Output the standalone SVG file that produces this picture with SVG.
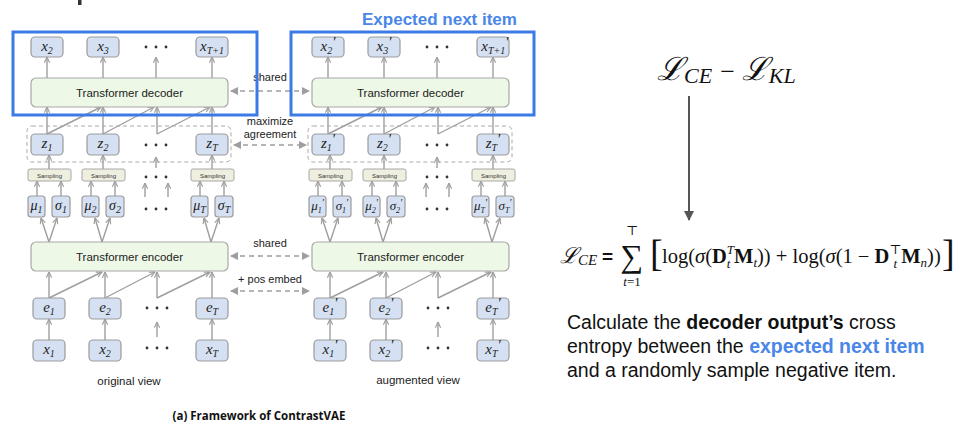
<svg xmlns="http://www.w3.org/2000/svg" width="964" height="436" viewBox="0 0 964 436">
<style>
.nd{fill:#d5e1f2;stroke:#9b9b9b;stroke-width:1.2}
.tf{fill:#edf8e6;stroke:#a8a8a8;stroke-width:1.2}
.sp{fill:#efefe0;stroke:#a8a8a8;stroke-width:1}
.m{font-family:"Liberation Serif",serif;font-style:italic;font-size:15px;fill:#222;text-anchor:middle}
.ms{font-family:"Liberation Serif",serif;font-style:italic;font-size:14px;fill:#222;text-anchor:middle}
.s{font-size:10px}
.lb{font-family:"Liberation Sans",Arial,sans-serif;font-size:11.5px;fill:#222;text-anchor:middle}
.sm{font-family:"Liberation Sans",Arial,sans-serif;font-size:6px;fill:#333;text-anchor:middle}
.ca{stroke:#9e9e9e;stroke-width:1.4;fill:none;marker-end:url(#ah)}
.dd{stroke:#9e9e9e;stroke-width:1.5;fill:none;stroke-dasharray:5 4;marker-end:url(#dh);marker-start:url(#dh)}
.zb{fill:none;stroke:#aaa;stroke-width:1;stroke-dasharray:4 3}
.blue{fill:none;stroke:#3c7ae6;stroke-width:3}
.dot{fill:#333}
.p{font-family:"Liberation Sans",Arial,sans-serif;font-size:19.5px;fill:#111}
.f{font-family:"Liberation Serif","DejaVu Serif",serif;fill:#111}
</style>
<defs>
<marker id="ah" viewBox="0 0 8 8" refX="7.5" refY="4" markerWidth="7" markerHeight="7" markerUnits="userSpaceOnUse" orient="auto">
<path d="M1,1 L7.5,4 L1,7" fill="none" stroke="#9e9e9e" stroke-width="1.3"/>
</marker>
<marker id="dh" viewBox="0 0 8 8" refX="7" refY="4" markerWidth="8" markerHeight="8" markerUnits="userSpaceOnUse" orient="auto-start-reverse">
<path d="M0,0 L8,4 L0,8 Z" fill="#9e9e9e"/>
</marker>
<marker id="bh" viewBox="0 0 10 10" refX="9" refY="5" markerWidth="10" markerHeight="10" markerUnits="userSpaceOnUse" orient="auto">
<path d="M0,0 L10,5 L0,10 Z" fill="#555"/>
</marker>
<g id="dots3"><circle cx="-10" cy="0" r="1.4"/><circle cx="0" cy="0" r="1.4"/><circle cx="10" cy="0" r="1.4"/></g>
</defs>
<rect width="964" height="436" fill="#fff"/>
<rect x="78" y="0" width="3.5" height="5" fill="#333"/>

<!-- ================= connectors ================= -->
<g id="connectors">
 <g id="conn-left">
  <line class="ca" x1="47" y1="78" x2="47" y2="57"/>
  <line class="ca" x1="103" y1="78" x2="103" y2="57"/>
  <line class="ca" x1="156" y1="78" x2="156" y2="57"/>
  <line class="ca" x1="212" y1="78" x2="212" y2="57"/>
  <line class="ca" x1="47" y1="134" x2="47" y2="107"/>
  <line class="ca" x1="47" y1="134" x2="101" y2="107"/>
  <line class="ca" x1="103" y1="134" x2="103" y2="107"/>
  <line class="ca" x1="103" y1="134" x2="154" y2="107"/>
  <line class="ca" x1="157" y1="134" x2="157" y2="107"/>
  <line class="ca" x1="157" y1="134" x2="210" y2="107"/>
  <line class="ca" x1="212" y1="134" x2="212" y2="107"/>
  <line class="ca" x1="49" y1="169" x2="49" y2="155"/>
  <line class="ca" x1="103" y1="169" x2="103" y2="155"/>
  <line class="ca" x1="156" y1="168" x2="156" y2="157"/>
  <line class="ca" x1="212" y1="169" x2="212" y2="155"/>
  <line class="ca" x1="37" y1="196" x2="37" y2="181"/>
  <line class="ca" x1="61" y1="196" x2="61" y2="181"/>
  <line class="ca" x1="91" y1="196" x2="91" y2="181"/>
  <line class="ca" x1="115" y1="196" x2="115" y2="181"/>
  <line class="ca" x1="145" y1="197" x2="145" y2="183"/>
  <line class="ca" x1="168" y1="197" x2="168" y2="183"/>
  <line class="ca" x1="200" y1="196" x2="200" y2="181"/>
  <line class="ca" x1="224" y1="196" x2="224" y2="181"/>
  <line class="ca" x1="49" y1="242" x2="41" y2="218"/>
  <line class="ca" x1="49" y1="242" x2="57" y2="218"/>
  <line class="ca" x1="102" y1="242" x2="95" y2="218"/>
  <line class="ca" x1="102" y1="242" x2="110" y2="218"/>
  <line class="ca" x1="211" y1="242" x2="204" y2="218"/>
  <line class="ca" x1="211" y1="242" x2="219" y2="218"/>
  <line class="ca" x1="49" y1="298" x2="49" y2="272"/>
  <line class="ca" x1="49" y1="298" x2="102" y2="272"/>
  <line class="ca" x1="105" y1="298" x2="105" y2="272"/>
  <line class="ca" x1="105" y1="298" x2="155" y2="272"/>
  <line class="ca" x1="157" y1="298" x2="157" y2="272"/>
  <line class="ca" x1="157" y1="298" x2="210" y2="272"/>
  <line class="ca" x1="212" y1="298" x2="212" y2="272"/>
  <line class="ca" x1="49" y1="340" x2="49" y2="319"/>
  <line class="ca" x1="105" y1="340" x2="105" y2="319"/>
  <line class="ca" x1="157" y1="337" x2="157" y2="322"/>
  <line class="ca" x1="212" y1="340" x2="212" y2="319"/>
 </g>
 <g id="conn-right" transform="translate(281,0)">
  <line class="ca" x1="47" y1="78" x2="47" y2="57"/>
  <line class="ca" x1="103" y1="78" x2="103" y2="57"/>
  <line class="ca" x1="156" y1="78" x2="156" y2="57"/>
  <line class="ca" x1="212" y1="78" x2="212" y2="57"/>
  <line class="ca" x1="47" y1="134" x2="47" y2="107"/>
  <line class="ca" x1="47" y1="134" x2="101" y2="107"/>
  <line class="ca" x1="103" y1="134" x2="103" y2="107"/>
  <line class="ca" x1="103" y1="134" x2="154" y2="107"/>
  <line class="ca" x1="157" y1="134" x2="157" y2="107"/>
  <line class="ca" x1="157" y1="134" x2="210" y2="107"/>
  <line class="ca" x1="212" y1="134" x2="212" y2="107"/>
  <line class="ca" x1="49" y1="169" x2="49" y2="155"/>
  <line class="ca" x1="103" y1="169" x2="103" y2="155"/>
  <line class="ca" x1="156" y1="168" x2="156" y2="157"/>
  <line class="ca" x1="212" y1="169" x2="212" y2="155"/>
  <line class="ca" x1="37" y1="196" x2="37" y2="181"/>
  <line class="ca" x1="61" y1="196" x2="61" y2="181"/>
  <line class="ca" x1="91" y1="196" x2="91" y2="181"/>
  <line class="ca" x1="115" y1="196" x2="115" y2="181"/>
  <line class="ca" x1="145" y1="197" x2="145" y2="183"/>
  <line class="ca" x1="168" y1="197" x2="168" y2="183"/>
  <line class="ca" x1="200" y1="196" x2="200" y2="181"/>
  <line class="ca" x1="224" y1="196" x2="224" y2="181"/>
  <line class="ca" x1="49" y1="242" x2="41" y2="218"/>
  <line class="ca" x1="49" y1="242" x2="57" y2="218"/>
  <line class="ca" x1="102" y1="242" x2="95" y2="218"/>
  <line class="ca" x1="102" y1="242" x2="110" y2="218"/>
  <line class="ca" x1="211" y1="242" x2="204" y2="218"/>
  <line class="ca" x1="211" y1="242" x2="219" y2="218"/>
  <line class="ca" x1="49" y1="298" x2="49" y2="272"/>
  <line class="ca" x1="49" y1="298" x2="102" y2="272"/>
  <line class="ca" x1="105" y1="298" x2="105" y2="272"/>
  <line class="ca" x1="105" y1="298" x2="155" y2="272"/>
  <line class="ca" x1="157" y1="298" x2="157" y2="272"/>
  <line class="ca" x1="157" y1="298" x2="210" y2="272"/>
  <line class="ca" x1="212" y1="298" x2="212" y2="272"/>
  <line class="ca" x1="49" y1="340" x2="49" y2="319"/>
  <line class="ca" x1="105" y1="340" x2="105" y2="319"/>
  <line class="ca" x1="157" y1="337" x2="157" y2="322"/>
  <line class="ca" x1="212" y1="340" x2="212" y2="319"/>
 </g>
 <g id="conn-between">
  <line class="dd" x1="231" y1="91" x2="309" y2="91"/>
  <line class="dd" x1="234" y1="145" x2="306" y2="145"/>
  <line class="dd" x1="231" y1="256" x2="309" y2="256"/>
  <line class="dd" x1="231" y1="291" x2="309" y2="291"/>
 </g>
 <line id="conn-loss" x1="689" y1="96" x2="689" y2="220" stroke="#555" stroke-width="2" marker-end="url(#bh)"/>
</g>

<g id="labels-between">
 <text class="lb" x="270" y="81" style="font-size:11px">shared</text>
 <text class="lb" x="270" y="125" style="font-size:11px">maximize</text>
 <text class="lb" x="270" y="138" style="font-size:11px">agreement</text>
 <text class="lb" x="270" y="247" style="font-size:11px">shared</text>
 <text class="lb" x="270" y="283" style="font-size:11px">+ pos embed</text>
</g>

<!-- ================= LEFT: original view ================= -->
<g id="left-view">
 <g id="l-out-x2"><rect class="nd" x="31" y="37" width="32" height="20" rx="4"/><text class="m" x="47" y="51">x<tspan class="s" dy="3">2</tspan></text></g>
 <g id="l-out-x3"><rect class="nd" x="87" y="37" width="32" height="20" rx="4"/><text class="m" x="103" y="51">x<tspan class="s" dy="3">3</tspan></text></g>
 <use href="#dots3" class="dot" x="156" y="47"/>
 <g id="l-out-xT1"><rect class="nd" x="196" y="37" width="32" height="20" rx="4"/><text class="m" x="212" y="51">x<tspan class="s" dy="3">T+1</tspan></text></g>
 <g id="l-decoder"><rect class="tf" x="31" y="78" width="197" height="29" rx="5"/><text class="lb" x="129.5" y="97">Transformer decoder</text></g>
 <rect id="l-zgroup" class="zb" x="27" y="126" width="204" height="36" rx="5"/>
 <g id="l-z1"><rect class="nd" x="31" y="134" width="32" height="21" rx="4"/><text class="m" x="47" y="148">z<tspan class="s" dy="3">1</tspan></text></g>
 <g id="l-z2"><rect class="nd" x="87" y="134" width="32" height="21" rx="4"/><text class="m" x="103" y="148">z<tspan class="s" dy="3">2</tspan></text></g>
 <use href="#dots3" class="dot" x="156" y="145"/>
 <g id="l-zT"><rect class="nd" x="196" y="134" width="32" height="21" rx="4"/><text class="m" x="212" y="148">z<tspan class="s" dy="3">T</tspan></text></g>
 <g id="l-samp1"><rect class="sp" x="28" y="169" width="43" height="12" rx="2"/><text class="sm" x="49.5" y="177.5">Sampling</text></g>
 <g id="l-samp2"><rect class="sp" x="82" y="169" width="43" height="12" rx="2"/><text class="sm" x="103.5" y="177.5">Sampling</text></g>
 <use href="#dots3" class="dot" x="156" y="177"/>
 <g id="l-sampT"><rect class="sp" x="191" y="169" width="43" height="12" rx="2"/><text class="sm" x="212.5" y="177.5">Sampling</text></g>
 <g id="l-mu1"><rect class="nd" x="28" y="196" width="17" height="21" rx="3"/><text class="ms" x="36.5" y="210">μ<tspan class="s" dy="3">1</tspan></text></g>
 <g id="l-s1"><rect class="nd" x="52" y="196" width="18" height="21" rx="3"/><text class="ms" x="61" y="210">σ<tspan class="s" dy="3">1</tspan></text></g>
 <g id="l-mu2"><rect class="nd" x="82" y="196" width="17" height="21" rx="3"/><text class="ms" x="90.5" y="210">μ<tspan class="s" dy="3">2</tspan></text></g>
 <g id="l-s2"><rect class="nd" x="106" y="196" width="18" height="21" rx="3"/><text class="ms" x="115" y="210">σ<tspan class="s" dy="3">2</tspan></text></g>
 <use href="#dots3" class="dot" x="156" y="209"/>
 <g id="l-muT"><rect class="nd" x="191" y="196" width="17" height="21" rx="3"/><text class="ms" x="199.5" y="210">μ<tspan class="s" dy="3">T</tspan></text></g>
 <g id="l-sT"><rect class="nd" x="215" y="196" width="18" height="21" rx="3"/><text class="ms" x="224" y="210">σ<tspan class="s" dy="3">T</tspan></text></g>
 <g id="l-encoder"><rect class="tf" x="31" y="242" width="197" height="29" rx="5"/><text class="lb" x="129.5" y="261">Transformer encoder</text></g>
 <g id="l-e1"><rect class="nd" x="33" y="298" width="32" height="21" rx="4"/><text class="m" x="49" y="312">e<tspan class="s" dy="3">1</tspan></text></g>
 <g id="l-e2"><rect class="nd" x="89" y="298" width="32" height="21" rx="4"/><text class="m" x="105" y="312">e<tspan class="s" dy="3">2</tspan></text></g>
 <use href="#dots3" class="dot" x="157" y="308"/>
 <g id="l-eT"><rect class="nd" x="196" y="298" width="32" height="21" rx="4"/><text class="m" x="212" y="312">e<tspan class="s" dy="3">T</tspan></text></g>
 <g id="l-x1"><rect class="nd" x="33" y="340" width="32" height="21" rx="4"/><text class="m" x="49" y="354">x<tspan class="s" dy="3">1</tspan></text></g>
 <g id="l-x2"><rect class="nd" x="89" y="340" width="32" height="21" rx="4"/><text class="m" x="105" y="354">x<tspan class="s" dy="3">2</tspan></text></g>
 <use href="#dots3" class="dot" x="157" y="348"/>
 <g id="l-xT"><rect class="nd" x="196" y="340" width="32" height="21" rx="4"/><text class="m" x="212" y="354">x<tspan class="s" dy="3">T</tspan></text></g>
 <text class="lb" x="129" y="385">original view</text>
</g>

<!-- ================= RIGHT: augmented view ================= -->
<g id="right-view" transform="translate(281,0)">
 <g id="r-out-x2"><rect class="nd" x="31" y="37" width="32" height="20" rx="4"/><text class="m" x="47" y="51">x<tspan class="s" dy="3">2</tspan><tspan dy="-7">′</tspan></text></g>
 <g id="r-out-x3"><rect class="nd" x="87" y="37" width="32" height="20" rx="4"/><text class="m" x="103" y="51">x<tspan class="s" dy="3">3</tspan><tspan dy="-7">′</tspan></text></g>
 <use href="#dots3" class="dot" x="156" y="47"/>
 <g id="r-out-xT1"><rect class="nd" x="196" y="37" width="32" height="20" rx="4"/><text class="m" x="214" y="51">x<tspan class="s" dy="3">T+1</tspan><tspan dy="-7">′</tspan></text></g>
 <g id="r-decoder"><rect class="tf" x="31" y="78" width="197" height="29" rx="5"/><text class="lb" x="129.5" y="97">Transformer decoder</text></g>
 <rect id="r-zgroup" class="zb" x="27" y="126" width="204" height="36" rx="5"/>
 <g id="r-z1"><rect class="nd" x="31" y="134" width="32" height="21" rx="4"/><text class="m" x="47" y="148">z<tspan class="s" dy="3">1</tspan><tspan dy="-7">′</tspan></text></g>
 <g id="r-z2"><rect class="nd" x="87" y="134" width="32" height="21" rx="4"/><text class="m" x="103" y="148">z<tspan class="s" dy="3">2</tspan><tspan dy="-7">′</tspan></text></g>
 <use href="#dots3" class="dot" x="156" y="145"/>
 <g id="r-zT"><rect class="nd" x="196" y="134" width="32" height="21" rx="4"/><text class="m" x="212" y="148">z<tspan class="s" dy="3">T</tspan><tspan dy="-7">′</tspan></text></g>
 <g id="r-samp1"><rect class="sp" x="28" y="169" width="43" height="12" rx="2"/><text class="sm" x="49.5" y="177.5">Sampling</text></g>
 <g id="r-samp2"><rect class="sp" x="82" y="169" width="43" height="12" rx="2"/><text class="sm" x="103.5" y="177.5">Sampling</text></g>
 <use href="#dots3" class="dot" x="156" y="177"/>
 <g id="r-sampT"><rect class="sp" x="191" y="169" width="43" height="12" rx="2"/><text class="sm" x="212.5" y="177.5">Sampling</text></g>
 <g id="r-mu1"><rect class="nd" x="28" y="196" width="17" height="21" rx="3"/><text class="ms" x="36.5" y="210" style="font-size:13px">μ<tspan class="s" dy="3" style="font-size:8px">1</tspan><tspan dy="-7" style="font-size:10px">′</tspan></text></g>
 <g id="r-s1"><rect class="nd" x="52" y="196" width="18" height="21" rx="3"/><text class="ms" x="61" y="210" style="font-size:13px">σ<tspan class="s" dy="3" style="font-size:8px">1</tspan><tspan dy="-7" style="font-size:10px">′</tspan></text></g>
 <g id="r-mu2"><rect class="nd" x="82" y="196" width="17" height="21" rx="3"/><text class="ms" x="90.5" y="210" style="font-size:13px">μ<tspan class="s" dy="3" style="font-size:8px">2</tspan><tspan dy="-7" style="font-size:10px">′</tspan></text></g>
 <g id="r-s2"><rect class="nd" x="106" y="196" width="18" height="21" rx="3"/><text class="ms" x="115" y="210" style="font-size:13px">σ<tspan class="s" dy="3" style="font-size:8px">2</tspan><tspan dy="-7" style="font-size:10px">′</tspan></text></g>
 <use href="#dots3" class="dot" x="156" y="209"/>
 <g id="r-muT"><rect class="nd" x="191" y="196" width="17" height="21" rx="3"/><text class="ms" x="199.5" y="210" style="font-size:13px">μ<tspan class="s" dy="3" style="font-size:8px">T</tspan><tspan dy="-7" style="font-size:10px">′</tspan></text></g>
 <g id="r-sT"><rect class="nd" x="215" y="196" width="18" height="21" rx="3"/><text class="ms" x="224" y="210" style="font-size:13px">σ<tspan class="s" dy="3" style="font-size:8px">T</tspan><tspan dy="-7" style="font-size:10px">′</tspan></text></g>
 <g id="r-encoder"><rect class="tf" x="31" y="242" width="197" height="29" rx="5"/><text class="lb" x="129.5" y="261">Transformer encoder</text></g>
 <g id="r-e1"><rect class="nd" x="33" y="298" width="32" height="21" rx="4"/><text class="m" x="49" y="312">e<tspan class="s" dy="3">1</tspan><tspan dy="-7">′</tspan></text></g>
 <g id="r-e2"><rect class="nd" x="89" y="298" width="32" height="21" rx="4"/><text class="m" x="105" y="312">e<tspan class="s" dy="3">2</tspan><tspan dy="-7">′</tspan></text></g>
 <use href="#dots3" class="dot" x="157" y="308"/>
 <g id="r-eT"><rect class="nd" x="196" y="298" width="32" height="21" rx="4"/><text class="m" x="212" y="312">e<tspan class="s" dy="3">T</tspan><tspan dy="-7">′</tspan></text></g>
 <g id="r-x1"><rect class="nd" x="33" y="340" width="32" height="21" rx="4"/><text class="m" x="49" y="354">x<tspan class="s" dy="3">1</tspan><tspan dy="-7">′</tspan></text></g>
 <g id="r-x2"><rect class="nd" x="89" y="340" width="32" height="21" rx="4"/><text class="m" x="105" y="354">x<tspan class="s" dy="3">2</tspan><tspan dy="-7">′</tspan></text></g>
 <use href="#dots3" class="dot" x="157" y="348"/>
 <g id="r-xT"><rect class="nd" x="196" y="340" width="32" height="21" rx="4"/><text class="m" x="212" y="354">x<tspan class="s" dy="3">T</tspan><tspan dy="-7">′</tspan></text></g>
 <text class="lb" x="137" y="384">augmented view</text>
</g>

<text x="259" y="420" style="font-family:'Open Sans','Liberation Sans',sans-serif;font-weight:bold;font-size:11.5px;fill:#111;text-anchor:middle">(a) Framework of ContrastVAE</text>

<!-- highlight boxes -->
<g id="highlight">
 <rect class="blue" x="13" y="32" width="244" height="83"/>
 <rect class="blue" x="291" y="32" width="243" height="83"/>
 <text x="362" y="25" style="font-family:'Liberation Sans',Arial,sans-serif;font-weight:bold;font-size:17px;fill:#4a86e8">Expected next item</text>
</g>

<!-- loss -->
<g id="loss-top">
 <text class="f" x="657" y="80" style="font-size:32px;font-style:italic">ℒ<tspan dy="3" style="font-size:22px">CE</tspan><tspan dy="-3" dx="8" style="font-style:normal;font-size:26px">−</tspan><tspan dx="7" style="font-size:32px">ℒ</tspan><tspan dy="3" style="font-size:22px">KL</tspan></text>
</g>
<g id="loss-formula">
 <text class="f" x="560" y="263" style="font-size:22px;font-style:italic">ℒ<tspan dy="2" style="font-size:15px">CE</tspan></text>
 <text x="602" y="263" style="font-family:'Liberation Sans',sans-serif;font-weight:bold;font-size:19px;fill:#111">=</text>
 <text class="f" x="632" y="267" style="font-size:32px;text-anchor:middle">∑</text>
 <text class="f" x="632" y="235" style="font-size:13px;text-anchor:middle">⊤</text>
 <text class="f" x="632" y="286" style="font-size:13px;text-anchor:middle"><tspan font-style="italic">t</tspan>=1</text>
 <text class="f" x="650" y="266" style="font-size:38px">[</text>
 <text class="f" x="662" y="263" style="font-size:20.5px">log(<tspan font-style="italic">σ</tspan><tspan>(</tspan><tspan font-weight="bold">D</tspan><tspan style="font-size:13px;font-style:italic" dy="-9">T</tspan><tspan style="font-size:13px;font-style:italic" dx="-7.2" dy="14">t</tspan><tspan font-weight="bold" dx="3.6" dy="-5">M</tspan><tspan style="font-size:13px;font-style:italic" dy="4">t</tspan><tspan dy="-4">)) + log(</tspan><tspan font-style="italic">σ</tspan><tspan>(1 − </tspan><tspan font-weight="bold">D</tspan><tspan style="font-size:13px" dy="-9">⊤</tspan><tspan style="font-size:13px;font-style:italic" dx="-8" dy="14">t</tspan><tspan font-weight="bold" dx="4" dy="-5">M</tspan><tspan style="font-size:13px;font-style:italic" dy="4">n</tspan><tspan dy="-4">))</tspan></text>
 <text class="f" x="942" y="266" style="font-size:38px">]</text>
</g>

<g id="caption">
 <text class="p" x="567" y="329">Calculate the <tspan font-weight="bold">decoder output’s</tspan> cross</text>
 <text class="p" x="567" y="353">entropy between the <tspan font-weight="bold" fill="#4a86e8">expected next item</tspan></text>
 <text class="p" x="567" y="377">and a randomly sample negative item.</text>
</g>
</svg>
